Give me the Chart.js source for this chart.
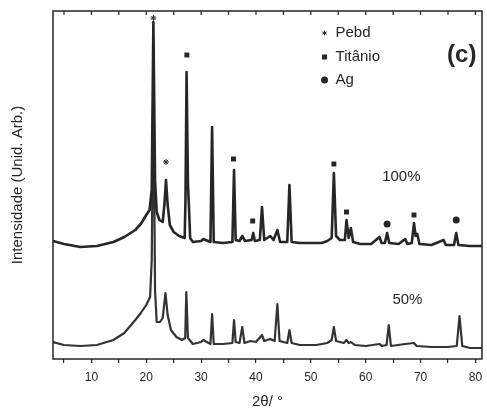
<!DOCTYPE html>
<html>
<head>
<meta charset="utf-8">
<script src="https://cdn.jsdelivr.net/npm/chart.js"></script>
<style>
  html, body { margin: 0; padding: 0; background: #fff; }
  #wrap { width: 487px; height: 409px; }
</style>
</head>
<body>
<div id="wrap"><canvas id="xrd" width="487" height="409"></canvas></div>
<script>
// Difratograma (c) - amostras 100% e 50%
const FONT = '"Liberation Sans", Arial, sans-serif';
const INK = '#262626';

// curva 100% (2θ, intensidade arb.)
const theta100 = [3, 5, 8, 11, 14, 16, 18, 19, 20, 20.6, 21.0, 21.3, 21.6, 21.9, 22.4, 23.0, 23.3, 23.6, 23.9, 24.3,
  25.0, 26.0, 27.0, 27.15, 27.35, 27.6, 27.8, 28.0, 28.5, 30.0, 30.4, 31.7, 32.0, 32.3, 34.0, 35.7, 36.0, 36.3, 37.0, 37.5,
  38.0, 39.2, 39.5, 39.8, 40.7, 41.1, 41.5, 42.6, 43.2, 43.9, 44.4, 45.7, 46.1, 46.5, 48, 50, 52, 53, 53.8, 54.2,
  54.6, 55.3, 56.2, 56.5, 56.9, 57.3, 57.7, 59, 61, 62.5, 62.9, 63.5, 63.9, 64.3, 66, 67.2, 67.6, 68.4, 68.8, 69.1,
  69.4, 69.8, 72, 74.2, 74.6, 76.1, 76.5, 76.9, 79, 81.2];
const int100 = [118, 115, 112, 113, 117, 122, 129, 135, 144, 149, 169, 337, 179, 147, 139, 137, 154, 179, 154, 134,
  127, 123, 121, 159, 287, 175, 150, 121, 117, 118, 120, 117, 232, 117, 116, 117, 189, 119, 118, 123,
  118, 119, 126, 118, 119, 152, 119, 123, 119, 129, 117, 117, 174, 117, 116, 116, 116, 118, 121, 186,
  123, 119, 119, 139, 121, 131, 117, 115, 115, 122, 116, 116, 126, 116, 115, 120, 115, 116, 136, 123,
  125, 115, 114, 119, 114, 114, 126, 114, 113, 113];

// curva 50%
const theta50 = [3, 5, 8, 11, 14, 16, 18, 19, 20, 20.7, 21.0, 21.3, 21.6, 21.9, 22.5, 23.0, 23.5, 23.9, 24.5, 25.5,
  26.5, 27.1, 27.3, 27.6, 28.5, 30.0, 30.4, 31.7, 32.0, 32.3, 34.0, 35.7, 36.0, 36.3, 37.0, 37.5, 37.9, 39.0, 40.0, 41.1,
  41.5, 42.6, 43.4, 43.9, 44.3, 45.7, 46.1, 46.5, 48, 51, 53, 53.8, 54.2, 54.6, 56.0, 56.5, 56.9, 57.3, 58, 60,
  62.5, 63.0, 63.8, 64.2, 64.6, 67.2, 68.8, 69.3, 72, 75, 76.6, 77.1, 77.6, 79, 81.2];
const int50 = [17, 14, 13, 14, 19, 26, 39, 46, 54, 62, 99, 289, 69, 37, 37, 41, 66, 44, 29, 22,
  19, 21, 67, 21, 15, 17, 19, 15, 45, 15, 15, 16, 39, 17, 16, 32, 16, 18, 17, 24,
  18, 20, 18, 55, 18, 16, 29, 16, 14, 14, 16, 19, 32, 18, 16, 19, 16, 17, 14, 13,
  15, 13, 14, 34, 13, 15, 16, 13, 12, 12, 13, 43, 13, 11, 11];

// marcadores de fase sobre a curva 100%
const pebdTheta = [21.3, 23.6];
const pebdInt = [341, 197];
const tiTheta = [27.4, 35.9, 39.4, 54.2, 56.5, 68.8];
const tiInt = [304, 200, 138, 195, 147, 144];
const agTheta = [63.9, 76.5];
const agInt = [135, 139];

const xTicks = [10, 20, 30, 40, 50, 60, 70, 80];

const pts = (xs, ys) => xs.map((x, i) => ({ x: x, y: ys[i] }));

const framePlugin = {
  id: 'frame',
  afterDraw(chart) {
    const { ctx, chartArea: a, scales } = chart;
    ctx.save();
    ctx.strokeStyle = INK;
    ctx.lineWidth = 1.5;
    ctx.strokeRect(a.left, a.top, a.right - a.left, a.bottom - a.top);
    // ticks internos no topo
    ctx.lineWidth = 1.2;
    for (let v = 5; v <= 80; v += 5) {
      const px = scales.x.getPixelForValue(v);
      ctx.beginPath();
      ctx.moveTo(px, a.top);
      ctx.lineTo(px, a.top + 4);
      ctx.stroke();
    }
    // legenda e rótulos
    const X = v => scales.x.getPixelForValue(v);
    const Y = v => scales.y.getPixelForValue(v);
    ctx.fillStyle = INK;
    ctx.font = '15px ' + FONT;
    ctx.textBaseline = 'middle';
    ctx.textAlign = 'left';
    ctx.fillText('Pebd', X(54.5), Y(326));
    ctx.fillText('Titânio', X(54.5), Y(302));
    ctx.fillText('Ag', X(54.5), Y(279));
    ctx.textAlign = 'center';
    ctx.fillText('100%', X(66.5), Y(182));
    ctx.fillText('50%', X(67.6), Y(59));
    ctx.font = 'bold 24px ' + FONT;
    ctx.fillText('(c)', X(77.5), Y(304));
    // símbolos da legenda
    const mx = X(52.5);
    let my = Y(326);
    ctx.lineWidth = 1;
    ctx.beginPath();
    for (let k = 0; k < 3; k++) {
      const ang = Math.PI / 2 + k * Math.PI / 3;
      ctx.moveTo(mx - 2.5 * Math.cos(ang), my - 2.5 * Math.sin(ang));
      ctx.lineTo(mx + 2.5 * Math.cos(ang), my + 2.5 * Math.sin(ang));
    }
    ctx.stroke();
    my = Y(302);
    ctx.fillRect(mx - 2.5, my - 2.5, 5, 5);
    my = Y(279);
    ctx.beginPath();
    ctx.arc(mx, my, 3.5, 0, Math.PI * 2);
    ctx.fill();
    ctx.restore();
  }
};

new Chart(document.getElementById('xrd'), {
  type: 'line',
  data: {
    datasets: [
      { label: '100%', data: pts(theta100, int100), borderColor: INK, borderWidth: 2.6, pointRadius: 0, tension: 0, borderJoinStyle: 'round' },
      { label: '50%', data: pts(theta50, int50), borderColor: '#333', borderWidth: 2.2, pointRadius: 0, tension: 0, borderJoinStyle: 'round' },
      { label: 'Pebd', data: pts(pebdTheta, pebdInt), showLine: false, pointStyle: 'star', pointRadius: 3, borderColor: INK, borderWidth: 1, pointBackgroundColor: INK },
      { label: 'Titânio', data: pts(tiTheta, tiInt), showLine: false, pointStyle: 'rect', pointRadius: 3.5, borderWidth: 0, pointBackgroundColor: INK },
      { label: 'Ag', data: pts(agTheta, agInt), showLine: false, pointStyle: 'circle', pointRadius: 3.5, borderWidth: 0, pointBackgroundColor: INK }
    ]
  },
  options: {
    responsive: false,
    animation: false,
    events: [],
    layout: { padding: { left: 0, right: 5, top: 11, bottom: 0 } },
    plugins: { legend: { display: false }, tooltip: { enabled: false } },
    scales: {
      x: {
        type: 'linear', min: 3, max: 81.2,
        afterFit: s => { s.height = 50; s.paddingLeft = 0; s.paddingRight = 0; },
        border: { display: false },
        grid: { drawOnChartArea: false, drawTicks: true, tickLength: 4, color: INK, lineWidth: 1.2 },
        ticks: {
          stepSize: 5, includeBounds: false, maxRotation: 0, autoSkip: false, padding: 7,
          color: INK, font: { family: FONT, size: 12 },
          callback: v => xTicks.includes(v) ? String(v) : ''
        },
        title: { display: true, text: '2θ/ °', color: INK, font: { family: FONT, size: 15, lineHeight: 1 }, padding: { top: 0, bottom: 0 } }
      },
      y: {
        type: 'linear', min: 0, max: 348,
        afterFit: s => { s.width = 53; },
        border: { display: false },
        grid: { display: false },
        ticks: { display: false },
        title: { display: true, text: 'Intensidade (Unid. Arb.)', color: INK, font: { family: FONT, size: 15, lineHeight: 1.2 }, padding: { top: 9, bottom: 0 } }
      }
    }
  },
  plugins: [framePlugin]
});
</script>
</body>
</html>
